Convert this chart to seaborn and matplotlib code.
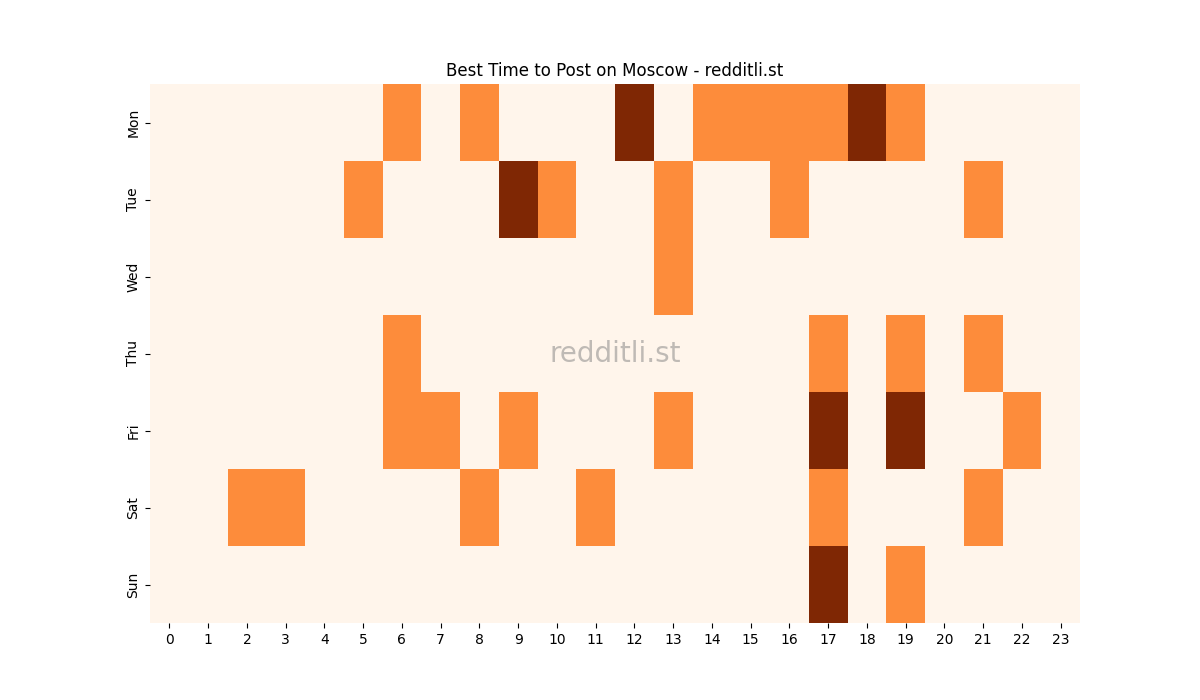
import matplotlib
matplotlib.use("Agg")
import matplotlib.pyplot as plt
import seaborn as sns
import numpy as np
import pandas as pd

days = ["Mon", "Tue", "Wed", "Thu", "Fri", "Sat", "Sun"]
hours = list(range(24))

mon = [0,0,0,0,0,0,1,0,1,0,0,0,2,0,1,1,1,1,2,1,0,0,0,0]
tue = [0,0,0,0,0,1,0,0,0,2,1,0,0,1,0,0,1,0,0,0,0,1,0,0]
wed = [0,0,0,0,0,0,0,0,0,0,0,0,0,1,0,0,0,0,0,0,0,0,0,0]
thu = [0,0,0,0,0,0,1,0,0,0,0,0,0,0,0,0,0,1,0,1,0,1,0,0]
fri = [0,0,0,0,0,0,1,1,0,1,0,0,0,1,0,0,0,2,0,2,0,0,1,0]
sat = [0,0,1,1,0,0,0,0,1,0,0,1,0,0,0,0,0,1,0,0,0,1,0,0]
sun = [0,0,0,0,0,0,0,0,0,0,0,0,0,0,0,0,0,2,0,1,0,0,0,0]

df = pd.DataFrame([mon, tue, wed, thu, fri, sat, sun], index=days, columns=hours)

fig, ax = plt.subplots(figsize=(12, 7), dpi=100)
sns.heatmap(df, cmap="Oranges", vmin=0, vmax=2, cbar=False, ax=ax)
ax.set_title("Best Time to Post on Moscow - redditli.st")
ax.set_yticklabels(days, rotation=90, va="center")
ax.set_xticklabels([str(h) for h in hours], rotation=0)
ax.text(0.5, 0.5, "redditli.st", transform=ax.transAxes, ha="center", va="center",
        fontsize=20, color="grey", alpha=0.5)
fig.savefig("out.png")
